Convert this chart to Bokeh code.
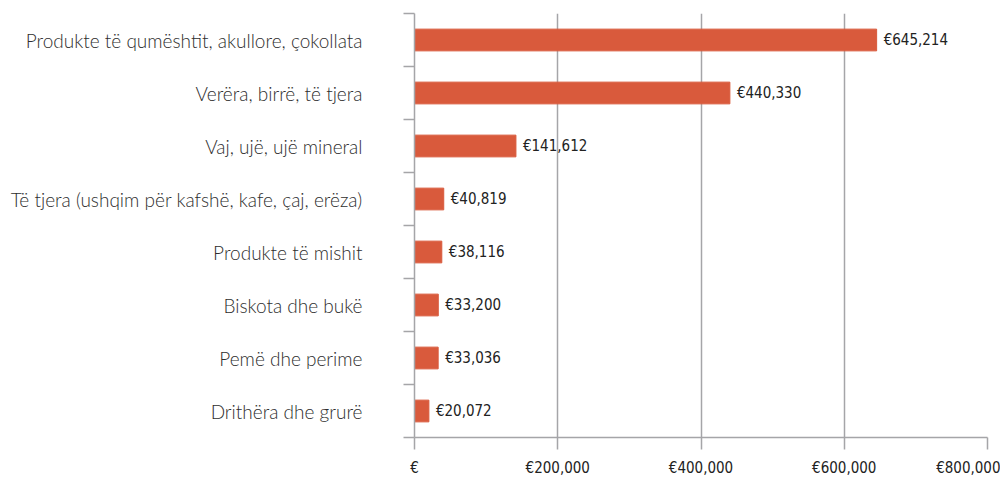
from bokeh.plotting import figure
from bokeh.models import ColumnDataSource, FixedTicker, Range1d
from bokeh.core.properties import value
from bokeh.embed import file_html
from bokeh.resources import INLINE

categories = [
    "Produkte të qumështit, akullore, çokollata",
    "Verëra, birrë, të tjera",
    "Vaj, ujë, ujë mineral",
    "Të tjera (ushqim për kafshë, kafe, çaj, erëza)",
    "Produkte të mishit",
    "Biskota dhe bukë",
    "Pemë dhe perime",
    "Drithëra dhe grurë",
]
values = [645214, 440330, 141612, 40819, 38116, 33200, 33036, 20072]
x_ticks = [0, 200000, 400000, 600000, 800000]
x_tick_labels = ["€", "€200,000", "€400,000", "€600,000", "€800,000"]

n = len(categories)
ypos = [n - 0.5 - i for i in range(n)]
labels = ["€{:,}".format(v) for v in values]

src = ColumnDataSource(dict(y=ypos, v=values, lab=labels, cat=categories))

p = figure(width=1000, height=479, output_backend="svg", toolbar_location=None,
           x_range=Range1d(0, 800000), y_range=Range1d(0, n),
           min_border_left=414, min_border_right=13, min_border_top=13, min_border_bottom=39)
p.outline_line_color = None
p.background_fill_color = "white"

p.hbar(y="y", right="v", left=0, height=0.41, source=src, color="#d95a3c")
p.text(x="v", y="y", text="lab", source=src, x_offset=7, text_baseline="middle",
       text_align="left", text_font=value("DejaVu Sans Condensed"),
       text_font_size="15px", text_color="#222222")

# x axis
xa = p.xaxis[0]
xa.ticker = FixedTicker(ticks=x_ticks)
xa.major_label_overrides = {t: l for t, l in zip(x_ticks, x_tick_labels)}
xa.axis_line_color = "#a5a5a8"
xa.axis_line_width = 1.5
xa.major_tick_line_color = "#a5a5a8"
xa.major_tick_line_width = 1.5
xa.major_tick_out = 12
xa.major_tick_in = 0
xa.minor_tick_line_color = None
xa.major_label_text_font = "DejaVu Sans Condensed"
xa.major_label_text_font_size = "15px"
xa.major_label_text_color = "#222222"
xa.major_label_standoff = 9

# y axis
ya = p.yaxis[0]
ya.ticker = FixedTicker(ticks=ypos, minor_ticks=list(range(n + 1)))
ya.major_label_overrides = {y: c for y, c in zip(ypos, categories)}
ya.axis_line_color = "#a5a5a8"
ya.axis_line_width = 1.5
ya.major_tick_line_color = None
ya.major_tick_out = 0
ya.major_tick_in = 0
ya.minor_tick_line_color = "#a5a5a8"
ya.minor_tick_line_width = 1.5
ya.minor_tick_out = 11
ya.minor_tick_in = 0
ya.major_label_text_font = "'Lato Light', Lato"
ya.major_label_text_font_size = "19px"
ya.major_label_text_color = "#2e2e2e"
ya.major_label_standoff = 41

p.xgrid.ticker = FixedTicker(ticks=x_ticks)
p.xgrid.grid_line_color = "#a5a5a8"
p.xgrid.grid_line_width = 1.5
p.ygrid.grid_line_color = None

open("out.html", "w").write(file_html(p, INLINE))
